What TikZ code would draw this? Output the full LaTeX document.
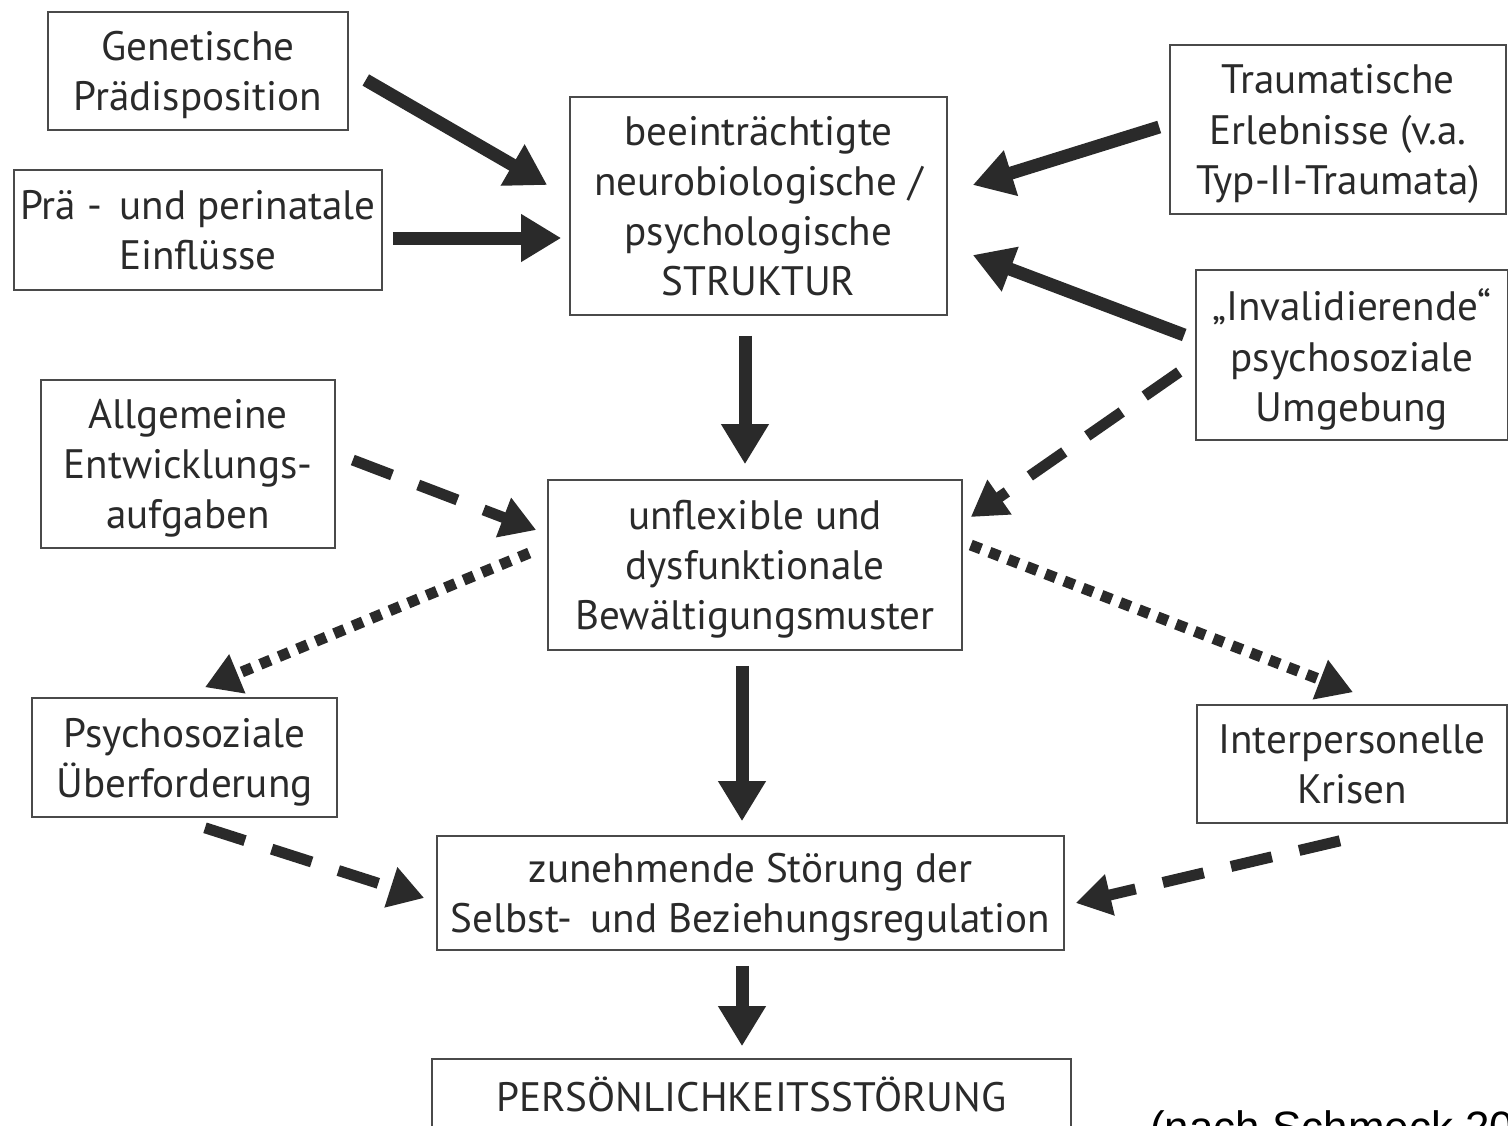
\documentclass[tikz,border=0pt]{standalone}
\usepackage{fontspec}
\setmainfont{PT Sans}
\newfontfamily\citefont{Liberation Sans}
\usetikzlibrary{arrows.meta}
\definecolor{ink}{HTML}{2A2A2A}
\definecolor{frame}{HTML}{4A4A4A}
\begin{document}
\begin{tikzpicture}[x=0.2mm,y=-0.2mm,
  box/.style={draw=frame, line width=0.9pt, align=center, inner sep=0pt, text=ink, text depth=0pt,
    font=\fontsize{23.4}{28.5}\selectfont},
  solidarr/.style={draw=ink, line width=2.6mm, -{Triangle[length=8mm,width=9mm]}},
  dasharr/.style={draw=ink, line width=2.2mm, dash pattern=on 8.4mm off 5.6mm, -{Triangle[length=7mm,width=8mm]}},
  dotarr/.style={draw=ink, line width=2.2mm, dash pattern=on 2.2mm off 1.8mm, -{Triangle[length=7mm,width=8mm]}}
]
\clip (0,0) rectangle (1508,1125);
\fill[white] (0,0) rectangle (1508,1125);

\node[box, minimum width=60mm, minimum height=23.6mm] (gen) at (198,71) {Genetische\\Prädisposition};
\node[box, minimum width=73.6mm, minimum height=24mm] (pra) at (198,230) {Prä -\,\ und perinatale\\Einflüsse};
\node[box, minimum width=75.4mm, minimum height=43.6mm] (str) at (758.5,206) {beeinträchtigte\\neurobiologische /\\psychologische\\STRUKTUR};
\node[box, minimum width=67.2mm, minimum height=33.8mm] (tra) at (1338,129.5) {Traumatische\\Erlebnisse (v.a.\\Typ-II-Traumata)};
\node[box, minimum width=62.4mm, minimum height=34mm] (inv) at (1352,355) {„Invalidierende“\\psychosoziale\\Umgebung};
\node[box, minimum width=58.8mm, minimum height=33.6mm] (allg) at (188,464) {Allgemeine\\Entwicklungs-\\aufgaben};
\node[box, minimum width=82.8mm, minimum height=34mm] (unf) at (755,565) {unflexible und\\dysfunktionale\\Bewältigungsmuster};
\node[box, minimum width=61mm, minimum height=23.8mm] (psy) at (184.5,757.5) {Psychosoziale\\Überforderung};
\node[box, minimum width=62mm, minimum height=23.6mm] (int) at (1352,764) {Interpersonelle\\Krisen};
\node[box, minimum width=125.4mm, minimum height=22.8mm] (zun) at (750.5,893) {zunehmende Störung der\\Selbst-\,\ und Beziehungsregulation};
\node[box, minimum width=127.8mm, minimum height=14mm] (pers) at (751.5,1094) {PERSÖNLICHKEITSSTÖRUNG};
\node[anchor=base west, inner sep=0pt, text=black, font=\citefont\fontsize{25}{30}\selectfont] (cite) at (1150,1142) {(nach Schmeck 201};

\draw[solidarr] ([shift={(17,9)}]gen.east) -- ([shift={(-22,-21)}]str.west);
\draw[solidarr] ([shift={(10,8)}]pra.east) -- ([shift={(-8,32)}]str.west);
\draw[solidarr] ([shift={(-10,-2.5)}]tra.west) -- ([shift={(25,-21)}]str.east);
\draw[solidarr] ([shift={(-11,-20)}]inv.west) -- ([shift={(25,49)}]str.east);
\draw[dasharr] ([shift={(-16,17)}]inv.west) -- ([shift={(8,-48)}]unf.east);
\draw[solidarr] ([shift={(-13.5,20)}]str.south) -- ([shift={(-10,-15)}]unf.north);
\draw[dasharr] ([shift={(17,-4)}]allg.east) -- ([shift={(-11,-35)}]unf.west);
\draw[dotarr] ([shift={(-18,-12)}]unf.west) -- ([shift={(20.5,-10)}]psy.north);
\draw[dotarr] ([shift={(8,-20)}]unf.east) -- ([shift={(1,-12)}]int.north);
\draw[solidarr] ([shift={(-13,15)}]unf.south) -- ([shift={(-8.5,-14)}]zun.north);
\draw[dasharr] ([shift={(20.5,10)}]psy.south) -- ([shift={(-12,5)}]zun.west);
\draw[dasharr] ([shift={(-12,17)}]int.south) -- ([shift={(11,10)}]zun.east);
\draw[solidarr] ([shift={(-8.5,15)}]zun.south) -- ([shift={(-9.5,-12)}]pers.north);
\end{tikzpicture}
\end{document}
